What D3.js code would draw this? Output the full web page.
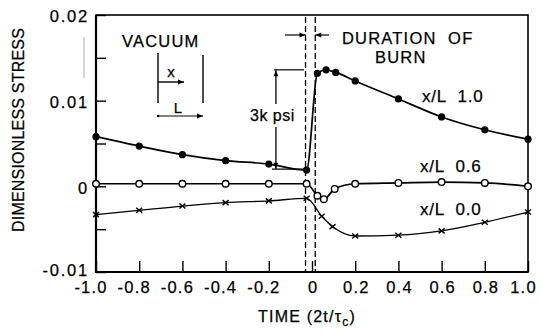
<!DOCTYPE html>
<html><head><meta charset="utf-8">
<script src="https://cdn.jsdelivr.net/npm/d3@7"></script>
<style>
html,body{margin:0;padding:0;background:#fff;}
svg{display:block;font-family:"Liberation Sans",Arial,Helvetica,sans-serif;}
svg text{stroke:#000;stroke-width:0.25px;}
</style></head><body>
<svg id="c" width="541" height="332"></svg>
<script>
// ---------- data ----------
const timeTicks = [-1.0,-0.8,-0.6,-0.4,-0.2,0,0.2,0.4,0.6,0.8,1.0];
const timeTickLabels = ["-1.0","-0.8","-0.6","-0.4","-0.2","0","0.2","0.4","0.6","0.8","1.0"];
const stressTicks = [-0.01,-0.005,0,0.005,0.01,0.015,0.02];
const stressTickLabels = ["-0.01","","0","","0.01","","0.02"];

const timeL10   = [-1.0,-0.8,-0.6,-0.4,-0.2,-0.025,0.025,0.065,0.11,0.2,0.4,0.6,0.8,1.0];
const stressL10 = [0.0058,0.0047,0.0037,0.0030,0.0026,0.0019,0.0132,0.0136,0.0133,0.0123,0.0102,0.0081,0.0066,0.0055];
const timeL06   = [-1.0,-0.8,-0.6,-0.4,-0.2,-0.025,0.025,0.055,0.105,0.2,0.4,0.6,0.8,1.0];
const stressL06 = [0.0003,0.0003,0.0003,0.0003,0.0003,0.0003,-0.0011,-0.0015,-0.0003,0.0003,0.0004,0.0005,0.0004,0.0000];
const timeL00   = [-1.0,-0.8,-0.6,-0.4,-0.2,-0.025,0.045,0.095,0.2,0.4,0.6,0.8,1.0];
const stressL00 = [-0.0033,-0.0028,-0.0023,-0.0019,-0.0017,-0.0014,-0.0035,-0.0047,-0.0058,-0.0057,-0.0052,-0.0042,-0.0030];
const seriesNames = ["x/L  1.0","x/L  0.6","x/L  0.0"];
const burnStart = -0.03, burnEnd = 0.015;
const psiTop = 0.0136, psiBottom = 0.002, psiTime = -0.167;

// ---------- setup ----------
const svg = d3.select("#c");
const L = 96, R = 528, T = 15, B = 272;
const x = d3.scaleLinear().domain([-1,1]).range([L,R]);
const y = d3.scaleLinear().domain([-0.01,0.02]).range([B,T]);

const defs = svg.append("defs");
defs.append("marker").attr("id","ah").attr("viewBox","0 0 10 10")
  .attr("refX",10).attr("refY",5).attr("markerWidth",7).attr("markerHeight",6)
  .attr("markerUnits","userSpaceOnUse").attr("orient","auto")
  .append("path").attr("d","M0,1 L10,5 L0,9 Z").attr("fill","#000");

// stray scan mark
svg.append("line").attr("x1",84).attr("x2",84).attr("y1",37).attr("y2",78)
  .attr("stroke","#bbb").attr("stroke-width",1.2);

// frame
svg.append("rect").attr("x",L).attr("y",T).attr("width",R-L).attr("height",B-T)
  .attr("fill","none").attr("stroke","#000").attr("stroke-width",1.6);
svg.append("path").attr("d",`M${L},${T} V${B} H${R}`).attr("fill","none")
  .attr("stroke","#000").attr("stroke-width",2.2);

// x axis
const xa = svg.append("g").attr("transform",`translate(0,${B})`)
  .call(d3.axisBottom(x).tickValues(timeTicks).tickSizeInner(-11).tickSizeOuter(0)
    .tickPadding(9).tickFormat((d,i)=>timeTickLabels[i]));
xa.select(".domain").remove();
xa.selectAll(".tick line").attr("stroke","#000").attr("stroke-width",1.4);
xa.selectAll(".tick text").attr("fill","#000").attr("font-size",16.5)
  .attr("font-family","Liberation Sans, Arial, sans-serif")
  .style("letter-spacing","1.2px")
  .attr("dx", d => d < 0 ? -5.5 : (d === 1 ? -5 : 0.6));

// y axis
const ya = svg.append("g").attr("transform",`translate(${L},0)`)
  .call(d3.axisLeft(y).tickValues(stressTicks).tickSizeInner(-10).tickSizeOuter(0)
    .tickPadding(7).tickFormat((d,i)=>stressTickLabels[i]));
ya.select(".domain").remove();
ya.selectAll(".tick line").attr("stroke","#000").attr("stroke-width",1.4);
ya.selectAll(".tick text").attr("fill","#000").attr("font-size",16.5)
  .attr("font-family","Liberation Sans, Arial, sans-serif")
  .style("letter-spacing","1.8px").attr("dy", d => d === -0.01 ? "0.2em" : "0.42em");

// axis titles
svg.append("text").attr("transform","translate(24,130) rotate(-90)")
  .attr("text-anchor","middle").attr("font-size",16).style("letter-spacing","0.2px")
  .text("DIMENSIONLESS  STRESS");
const xt = svg.append("text").attr("x",307).attr("y",322).attr("text-anchor","middle")
  .attr("font-size",16).style("letter-spacing","1.2px");
xt.append("tspan").text("TIME (2t/τ");
xt.append("tspan").attr("font-size",12).attr("dy",4).text("c");
xt.append("tspan").attr("dy",-4).text(")");

// burn dashed lines
[burnStart,burnEnd].forEach(t=>{
  svg.append("line").attr("x1",x(t)).attr("x2",x(t)).attr("y1",T+2).attr("y2",B)
    .attr("stroke","#000").attr("stroke-width",1.3).attr("stroke-dasharray","6,3");
});

// series
const line = d3.line().x(d=>x(d[0])).y(d=>y(d[1])).curve(d3.curveMonotoneX);
const s10 = timeL10.map((t,i)=>[t,stressL10[i]]);
const s06 = timeL06.map((t,i)=>[t,stressL06[i]]);
const s00 = timeL00.map((t,i)=>[t,stressL00[i]]);
[s10,s06].forEach(s=>svg.append("path").attr("d",line(s)).attr("fill","none")
  .attr("stroke","#000").attr("stroke-width",1.7));
svg.append("path").attr("d",line(s00)).attr("fill","none")
  .attr("stroke","#000").attr("stroke-width",1.3);

svg.append("g").selectAll("circle").data(s10).join("circle")
  .attr("cx",d=>x(d[0])).attr("cy",d=>y(d[1])).attr("r",3.6).attr("fill","#000");
svg.append("g").selectAll("circle").data(s06).join("circle")
  .attr("cx",d=>x(d[0])).attr("cy",d=>y(d[1])).attr("r",3.3)
  .attr("fill","#fff").attr("stroke","#000").attr("stroke-width",1.4);
const cs = 3;
svg.append("g").selectAll("path").data(s00).join("path")
  .attr("d",d=>{const px=x(d[0]),py=y(d[1]);
    return `M${px-cs},${py-cs+0.5}L${px+cs},${py+cs-0.5}M${px-cs},${py+cs-0.5}L${px+cs},${py-cs+0.5}`;})
  .attr("stroke","#000").attr("stroke-width",1.4).attr("fill","none");

// series labels
const labPos = [[422,102],[420,172],[420,215]];
seriesNames.forEach((n,i)=>svg.append("text").attr("x",labPos[i][0]).attr("y",labPos[i][1])
  .attr("font-size",17).style("white-space","pre").style("letter-spacing","0.8px").text(n));

// 3k psi annotation
const ax = x(psiTime);
svg.append("line").attr("x1",ax-2).attr("x2",x(-0.037)).attr("y1",y(psiTop)).attr("y2",y(psiTop))
  .attr("stroke","#000").attr("stroke-width",1.2);
svg.append("line").attr("x1",ax-4).attr("x2",x(-0.025)).attr("y1",y(psiBottom)).attr("y2",y(psiBottom))
  .attr("stroke","#000").attr("stroke-width",1.2);
svg.append("line").attr("x1",ax).attr("x2",ax).attr("y1",104).attr("y2",y(psiTop)+0.5)
  .attr("stroke","#000").attr("stroke-width",1.3).attr("marker-end","url(#ah)");
svg.append("line").attr("x1",ax).attr("x2",ax).attr("y1",127).attr("y2",y(psiBottom)-0.5)
  .attr("stroke","#000").attr("stroke-width",1.3).attr("marker-end","url(#ah)");
svg.append("text").attr("x",250).attr("y",121).attr("font-size",16)
  .style("letter-spacing","0.5px").text("3k psi");

// duration of burn
svg.append("line").attr("x1",285).attr("x2",x(burnStart)).attr("y1",35).attr("y2",35)
  .attr("stroke","#000").attr("stroke-width",1.2).attr("marker-end","url(#ah)");
svg.append("line").attr("x1",329).attr("x2",x(burnEnd)).attr("y1",35).attr("y2",35)
  .attr("stroke","#000").attr("stroke-width",1.2).attr("marker-end","url(#ah)");
svg.append("text").attr("x",342).attr("y",44).attr("font-size",16.5)
  .style("letter-spacing","1.2px").style("white-space","pre").text("DURATION  OF");
svg.append("text").attr("x",375).attr("y",63).attr("font-size",16.5)
  .style("letter-spacing","1.2px").text("BURN");

// vacuum sketch
svg.append("text").attr("x",122).attr("y",47).attr("font-size",16.5)
  .style("letter-spacing","1.2px").text("VACUUM");
svg.append("line").attr("x1",158).attr("x2",158).attr("y1",53).attr("y2",103)
  .attr("stroke","#000").attr("stroke-width",1.4);
svg.append("line").attr("x1",203).attr("x2",203).attr("y1",55).attr("y2",103)
  .attr("stroke","#000").attr("stroke-width",1.4);
svg.append("line").attr("x1",158).attr("x2",184).attr("y1",82).attr("y2",82)
  .attr("stroke","#000").attr("stroke-width",1.4).attr("marker-end","url(#ah)");
svg.append("text").attr("x",171).attr("y",77).attr("text-anchor","middle").attr("font-size",15).text("x");
svg.append("circle").attr("cx",158).attr("cy",116).attr("r",1.3).attr("fill","#000");
svg.append("line").attr("x1",158).attr("x2",203).attr("y1",116).attr("y2",116)
  .attr("stroke","#000").attr("stroke-width",1.2).attr("marker-end","url(#ah)");
svg.append("text").attr("x",178).attr("y",113).attr("text-anchor","middle").attr("font-size",15).text("L");
</script>
</body></html>
